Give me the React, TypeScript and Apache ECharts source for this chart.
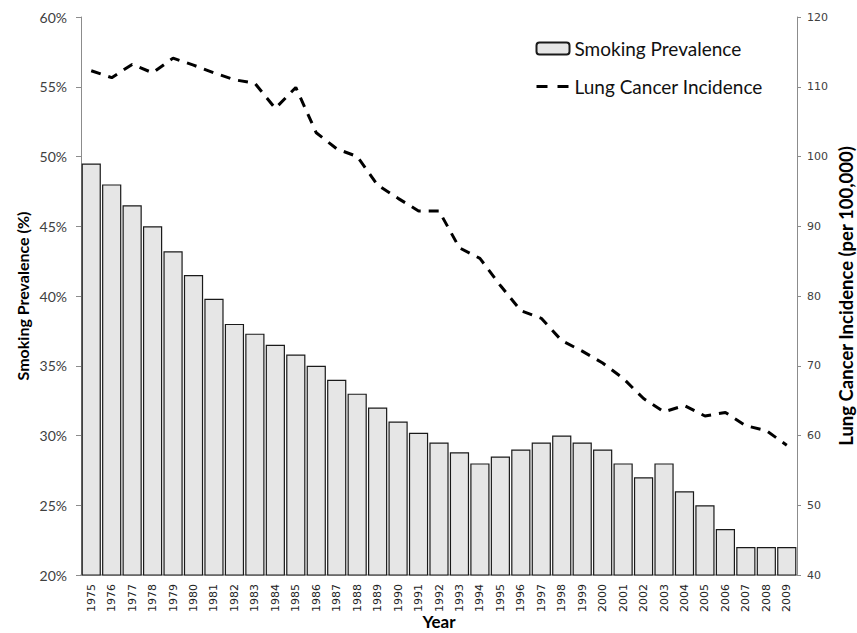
import React, { useEffect, useRef } from "react";
import * as echarts from "echarts";

const years = [
  "1975", "1976", "1977", "1978", "1979", "1980", "1981", "1982", "1983", "1984",
  "1985", "1986", "1987", "1988", "1989", "1990", "1991", "1992", "1993", "1994",
  "1995", "1996", "1997", "1998", "1999", "2000", "2001", "2002", "2003", "2004",
  "2005", "2006", "2007", "2008", "2009",
];

const smokingPrevalence = [
  49.5, 48.0, 46.5, 45.0, 43.2, 41.5, 39.8, 38.0, 37.3, 36.5,
  35.8, 35.0, 34.0, 33.0, 32.0, 31.0, 30.2, 29.5, 28.8, 28.0,
  28.5, 29.0, 29.5, 30.0, 29.5, 29.0, 28.0, 27.0, 28.0, 26.0,
  25.0, 23.3, 22.0, 22.0, 22.0,
];

const lungCancerIncidence = [
  112.3, 111.3, 113.2, 112.0, 114.1, 113.1, 112.0, 111.0, 110.5, 106.9,
  109.9, 103.4, 101.1, 100.0, 95.9, 94.0, 92.2, 92.2, 86.9, 85.4,
  81.5, 77.9, 76.8, 73.6, 72.1, 70.4, 68.2, 65.3, 63.4, 64.3,
  62.8, 63.3, 61.4, 60.7, 58.6,
];

const leftTicks = { min: 20, max: 60, interval: 5 };
const rightTicks = { min: 40, max: 120, interval: 10 };

export default function App() {
  const ref = useRef<HTMLDivElement>(null);

  useEffect(() => {
    if (!ref.current) return;
    const chart = echarts.init(ref.current, undefined, { renderer: "svg", width: 857, height: 633 });
    const labelFont = "Lato, 'Open Sans', sans-serif";
    chart.setOption({
      animation: false,
      backgroundColor: "#ffffff",
      grid: { left: 81, right: 60, top: 17, bottom: 58, containLabel: false, outerBoundsMode: "none" },
      legend: {
        orient: "vertical",
        left: 530,
        top: 34,
        itemGap: 19,
        itemWidth: 33,
        itemHeight: 12,
        textStyle: { fontFamily: labelFont, fontSize: 19, color: "#111" },
        data: [
          { name: "Smoking Prevalence" },
          {
            name: "Lung Cancer Incidence",
            itemStyle: { opacity: 0 },
            lineStyle: { type: [11, 10], width: 3, color: "#000" },
          },
        ],
      },
      xAxis: {
        type: "category",
        data: years,
        name: "Year",
        nameLocation: "middle",
        nameGap: 37,
        nameMoveOverlap: false,
        nameTextStyle: { fontFamily: labelFont, fontSize: 17, fontWeight: "bold", color: "#000", lineHeight: 18 },
        axisLine: { lineStyle: { color: "#a6a6a6", width: 1.5 } },
        axisTick: { show: false },
        axisLabel: {
          rotate: 90,
          margin: 9,
          fontFamily: "'DejaVu Sans', sans-serif",
          fontSize: 11,
          color: "#222",
          interval: 0,
        },
      },
      yAxis: [
        {
          type: "value",
          min: leftTicks.min,
          max: leftTicks.max,
          interval: leftTicks.interval,
          name: "Smoking Prevalence (%)",
          nameLocation: "middle",
          nameGap: 51,
          nameRotate: 90,
          nameMoveOverlap: false,
          nameTextStyle: { fontFamily: labelFont, fontSize: 16, fontWeight: "bold", color: "#000" },
          axisLine: { show: true, lineStyle: { color: "#8c8c8c", width: 1 } },
          axisTick: { show: true, length: 5, lineStyle: { color: "#8c8c8c" } },
          splitLine: { show: false },
          axisLabel: {
            margin: 14,
            fontFamily: labelFont,
            fontSize: 14,
            color: "#404040",
            formatter: (v: number) => `${v}%`,
          },
        },
        {
          type: "value",
          position: "right",
          min: rightTicks.min,
          max: rightTicks.max,
          interval: rightTicks.interval,
          name: "Lung Cancer Incidence (per 100,000)",
          nameLocation: "middle",
          nameGap: 39,
          nameRotate: 90,
          nameMoveOverlap: false,
          nameTextStyle: { fontFamily: labelFont, fontSize: 18.5, fontWeight: "bold", color: "#000" },
          axisLine: { show: true, lineStyle: { color: "#8c8c8c", width: 1 } },
          axisTick: { show: true, length: 4, lineStyle: { color: "#8c8c8c" } },
          splitLine: { show: false },
          axisLabel: {
            margin: 10,
            fontFamily: "'DejaVu Sans', sans-serif",
            fontSize: 11,
            color: "#404040",
          },
        },
      ],
      series: [
        {
          name: "Smoking Prevalence",
          type: "bar",
          yAxisIndex: 0,
          data: smokingPrevalence,
          barCategoryGap: "6%",
          itemStyle: { color: "#e6e6e6", borderColor: "#1a1a1a", borderWidth: 1.2 },
        },
        {
          name: "Lung Cancer Incidence",
          type: "line",
          yAxisIndex: 1,
          data: lungCancerIncidence,
          symbol: "none",
          lineStyle: { color: "#000", width: 3, type: [10, 8] },
          itemStyle: { color: "#000" },
        },
      ],
    });
    return () => chart.dispose();
  }, []);

  return (
    <div
      ref={ref}
      style={{ position: "fixed", left: 0, top: 0, width: 857, height: 633, background: "#fff" }}
    />
  );
}
